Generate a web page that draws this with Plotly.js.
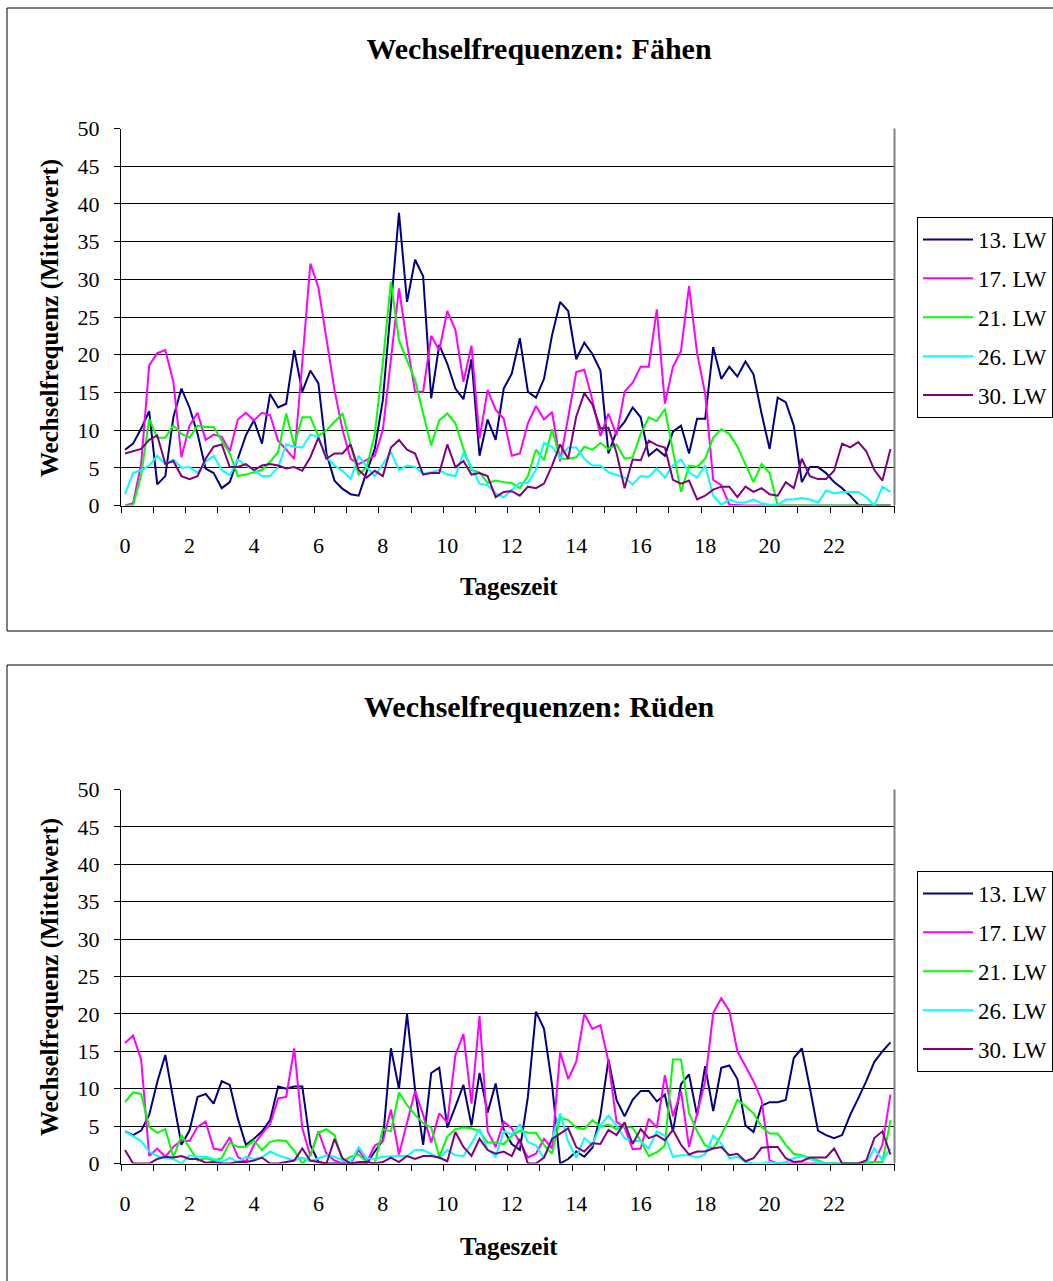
<!DOCTYPE html>
<html>
<head>
<meta charset="utf-8">
<script src="https://cdn.plot.ly/plotly-3.0.1.min.js"></script>
<style>html,body{margin:0;padding:0;background:#fff;}#chart{width:1053px;height:1281px;}</style>
</head>
<body>
<div id="chart"></div>
<script>
// Time of day (hours), 15-minute categories
const hours = Array.from({length: 96}, (_, i) => i / 4);
const seriesNames = ["13. LW", "17. LW", "21. LW", "26. LW", "30. LW"];
const seriesColors = ["#000080", "#FF00FF", "#00FF00", "#00FFFF", "#800080"];
const tickHours = [0, 2, 4, 6, 8, 10, 12, 14, 16, 18, 20, 22];

// Fähen (females)
const faehen13 = [7.4,8.2,10.2,12.5,2.8,3.9,11.7,15.5,13,9.5,4.9,4.3,2.3,3.1,6.2,9.3,
11.3,8.2,14.8,13,13.5,20.6,15.1,17.9,16.2,6.9,3.3,2.2,1.5,1.3,4.5,7.5,
14,26,38.8,27,32.6,30.4,14.2,21.3,18.8,15.5,14.1,19.4,6.6,11.4,8.7,15.5,
17.5,22.2,15.1,14.3,16.8,22.6,27,25.8,19.4,21.6,20.1,17.9,6.9,9.8,11.1,13,
11.7,6.6,7.5,6.6,9.8,10.6,6.9,11.5,11.5,21,16.8,18.4,17.1,19.1,17.4,12.2,
7.5,14.3,13.7,10.6,3.1,5.1,5.1,4.3,3.1,2.3,1.3,0.1,0,0,0,0];
const faehen17 = [0,0.3,5.5,18.6,20.2,20.6,16.4,6.4,10.6,12.3,8.7,9.4,9.1,7.2,11.4,12.3,
11.3,12.3,12,8.6,7.4,6.2,19,32.1,28.9,21.9,15.3,10,6.2,5.5,6,6.6,
10,19.7,28.8,21.5,15.1,15.1,22.5,20.6,25.8,23.3,16.4,21.2,8.9,15.3,12.7,11.5,
6.6,6.9,10.9,13.2,11.4,12.4,5.9,11.7,17.7,18,14,9.2,12.2,9.3,15.1,16.3,
18.4,18.4,26,13.5,18.4,20.5,29.1,20.2,14.8,3.4,2.7,0.1,0,0,0,0,
0,0,0,0,0,0,0,0,0,0,0,0,0,0,0,0];
const faehen21 = [0,0,4,11.5,9,9,10.6,9.5,9,10.6,10.4,10.4,8.6,6.9,3.9,4.1,
4.4,4.7,5.8,7.1,12.2,8,11.7,11.7,9.2,10,11.1,12.2,8,4.1,5.1,9.5,
19,29.7,21.9,19.3,16.6,12.2,8,11.3,12.2,10.9,7.5,4.7,4.4,3,3.3,3.1,
3,2.3,3.9,7.4,6,10.1,6.2,6.2,6.4,7.8,7.4,8.3,7.5,8.1,6.2,6.4,
9.5,11.7,11.2,12.8,7.3,1.8,5.3,5.1,6.2,9,10.1,9.5,7.8,5.5,3.1,5.5,
4.3,0,0,0,0,0,0,0,0,0,0,0,0,0,0,0];
const faehen26 = [1.5,4.3,4.7,5.3,6.6,5.5,6.1,5,5.1,4.3,5.8,6.6,4.7,4,6.1,5.3,
4.7,3.9,3.9,5.1,8.1,7.8,7.7,9.4,9.1,6.4,5.3,4.6,3.5,6.6,5.1,3.9,
5.5,7.1,4.7,5.3,5.1,4.2,4.4,4.7,4.1,3.9,7,5.1,2.9,2.7,1.6,1.1,
2.1,3,3,4.7,8.3,7.8,6.3,7.7,7.7,6.2,5.3,5.3,4.4,4.1,3.7,2.8,
3.9,3.8,4.9,3.7,5.3,6.1,4.4,3.7,5.3,1.3,0.1,0.8,0.4,0.4,0.8,0.3,
0.1,0.1,0.8,0.8,1,0.8,0.4,2,1.6,1.8,1.8,1.8,1.1,0,2.5,1.8];
const faehen30 = [6.9,7.2,7.5,8.7,9.3,5.5,5.9,3.9,3.5,3.9,6.2,7.8,8.1,5.1,5.1,5.5,
4.7,5.3,5.5,5.3,4.9,5.1,4.6,6.4,9,6.2,6.9,6.9,8.1,4.7,3.7,4.6,
3.9,7.7,8.7,7.4,6.9,4.1,4.3,4.3,8.1,5.1,5.9,4.1,4.3,3.9,1.1,1.8,
1.9,1.3,2.5,2.3,2.9,5.3,8.1,6.2,11.8,14.9,13.4,10.2,10.3,7,2.3,6.1,
6,8.6,8,7.7,3.4,2.9,3.3,0.8,1.3,2.1,2.5,2.5,1.1,2.5,1.8,2.3,
1.5,1.3,3.1,2.3,6.2,3.9,3.5,3.5,4.6,8.2,7.7,8.4,7.2,4.7,3.3,7.5];

// Rüden (males)
const rueden13 = [4.3,3.8,4.4,6.5,10.9,14.5,8.5,2.5,4.4,8.9,9.3,8,11,10.5,6,2.5,
3.3,4.3,5.8,10.3,10,10.3,10.3,2.5,0.2,0,0,0,0,0,0,1.6,
3.1,15.4,10,20,9.8,2.5,12.1,12.8,4.8,7.6,10.5,5.1,12.1,6.8,10.7,4.5,
2.6,1.8,8.9,20.3,18,10.5,0,0.6,1.6,0.9,2.1,6.4,13.9,8.5,6.3,8.5,
9.7,9.7,8.3,9.2,4.3,10.6,11.9,6.4,13,7,12.8,13.1,11.3,5.1,4.2,7.7,
8.2,8.2,8.5,14.1,15.4,10.1,4.4,3.8,3.4,3.8,6.5,8.7,11,13.6,15,16.2];
const rueden17 = [16.1,17.1,13.9,1,2,0.9,2.2,3.1,3,4.9,5.6,2,1.8,3.5,0.9,0.2,
2.5,4,5.2,8.7,8.9,15.4,4.7,1,4.3,1.3,0.4,0,0,1.8,0.2,2.4,
3,7.2,1.2,5.6,9.7,6.5,2.8,6.7,5.5,14.5,17.3,8,19.7,4.3,2.2,5.6,
4.7,2.8,0.8,1.3,3.3,2,14.9,11.3,13.6,20,18,18.5,13.6,5.6,4.8,1.9,
2,6,4.8,11.8,6.3,9.7,2.2,6.7,11,20.1,22.1,20.4,15,13,11,8.5,
0.4,0,0,0,0,0,0,0,0,0,0,0,0,0.2,2.5,9.2];
const rueden21 = [8.2,9.5,9.3,4.9,4.1,4.6,0.8,3.8,2.1,0.4,0.7,0.4,0.7,2.8,2.2,2.2,
3.1,1.8,2.9,3.1,3,1.7,0,1.1,4.1,4.6,3.8,0.3,0.9,1.2,0.2,0,
4.6,4.3,9.5,7.8,6.5,5.4,4.8,0.9,3.6,4.6,4.8,4.7,4.3,2.8,2.8,2.6,
3.7,4.4,4.1,4.1,2.5,1.3,6.1,5.8,4.8,4.6,5.8,4.9,5.2,4.6,4.9,4.8,
3,1,1.5,2.4,13.9,13.9,6.7,4.3,2.4,2,3.8,6,8.5,7.7,6.7,4.9,
4,4,2.5,1.3,1.1,0.8,0.4,0,0,0,0,0,0.1,0.2,0.2,5.8];
const rueden26 = [4.3,3.6,3,1.6,1,0.7,0.6,0,1.1,0.9,0.9,0.6,0.2,0.8,0.2,0.9,
0.6,0.8,1.6,1.1,0.8,0.4,0.8,0.3,0.7,1.1,0.9,0.4,0.2,2.2,0.7,0.6,
0.9,1,1,1,1.8,1.8,1.3,0.7,1.8,1.1,1,2.7,4.6,1.9,0.9,4.3,
3.9,5.2,2.9,2.4,0.7,3.3,6.7,2.9,0.8,3.4,2.5,5.1,6.4,5.1,3.4,3,
3,2,4.3,3.7,0.9,1.1,1.1,0.8,1.2,3.7,2.7,0.7,0.9,0.2,0,0,
0.2,0,0.2,0.7,1,0.6,0.2,0,0,0,0,0,0,2,0.4,2];
const rueden30 = [1.8,0,0,0,0.6,0.9,0.8,1,0.6,0.6,0.1,0.2,0,0,0.2,0.2,
0.4,0.8,0,0,0.2,0.4,2,0.4,0.2,0,3.3,0.7,0,0.2,0.2,0,
0.2,0.8,0.2,1,0.6,1,1,0.8,0.3,4.2,2.2,1,3.3,1.8,1.3,1.6,
1,3.3,0,0,0.8,3.3,4,4.7,2.2,1.6,2.7,2.6,4.5,3.8,5.5,2.6,
4.6,3.4,3.8,3.1,4.5,2.5,1.2,1.6,1.6,2,2.2,1.1,1.3,0.3,0.7,2.1,
2.2,2.2,0.7,0.2,0.3,0.8,0.8,0.8,2,0,0,0,0.4,3.4,4.3,1.2];

const faehen = [faehen13, faehen17, faehen21, faehen26, faehen30];
const rueden = [rueden13, rueden17, rueden21, rueden26, rueden30];

const FONT = '"Liberation Serif", "Times New Roman", serif';
const W = 1053, H = 1281;
const px = v => v / W;
const py = v => (H - v) / H;

const traces = [];
faehen.forEach((vals, k) => traces.push({
  x: hours, y: vals, type: 'scatter', mode: 'lines', name: seriesNames[k],
  line: {color: seriesColors[k], width: 2}, xaxis: 'x', yaxis: 'y',
  legend: 'legend', legendgroup: 'f' + k, hoverinfo: 'skip'
}));
rueden.forEach((vals, k) => traces.push({
  x: hours, y: vals, type: 'scatter', mode: 'lines', name: seriesNames[k],
  line: {color: seriesColors[k], width: 2}, xaxis: 'x2', yaxis: 'y2',
  legend: 'legend2', legendgroup: 'r' + k, hoverinfo: 'skip'
}));

const boundaries = Array.from({length: 25}, (_, k) => k - 0.125);
const xDomain = [px(121), px(894.5)];

function xAxis(anchor) {
  return {
    domain: xDomain, anchor: anchor, range: [-0.125, 23.875],
    tickmode: 'array', tickvals: tickHours, ticktext: tickHours.map(String),
    ticks: '', showgrid: false, zeroline: false,
    showline: true, linecolor: '#000', linewidth: 1,
    tickfont: {family: FONT, size: 22, color: '#000'},
    ticklabelstandoff: 20,
    minor: {tickmode: 'array', tickvals: boundaries, ticks: 'outside', ticklen: 6,
            tickwidth: 1, tickcolor: '#000', showgrid: false},
    fixedrange: true
  };
}
function yAxis(anchor, dom) {
  return {
    domain: dom, anchor: anchor, range: [0, 50], tickmode: 'linear', tick0: 0, dtick: 5,
    ticks: 'outside', ticklen: 6, tickwidth: 1, tickcolor: '#000',
    showgrid: true, gridcolor: '#000', gridwidth: 1, zeroline: false,
    showline: true, linecolor: '#000', linewidth: 1,
    tickfont: {family: FONT, size: 22, color: '#000'},
    ticklabelstandoff: 10, fixedrange: true
  };
}

const topDom = [py(505.5), py(128.5)];
const botDom = [py(1163.5), py(789.5)];

function legendCfg(topPx) {
  return {
    x: px(917), y: py(topPx), xanchor: 'left', yanchor: 'top',
    bgcolor: '#fff', bordercolor: '#000', borderwidth: 1,
    font: {family: FONT, size: 23, color: '#000'},
    itemwidth: 50, tracegroupgap: 6, traceorder: 'grouped', itemclick: false
  };
}

const annotations = [
  {text: '<b>Wechselfrequenzen: Rüden</b>', x: px(539), y: py(707), xref: 'paper', yref: 'paper',
   xanchor: 'center', yanchor: 'middle', showarrow: false, font: {family: FONT, size: 30, color: '#000'}},
  {text: '<b>Wechselfrequenz (Mittelwert)</b>', x: px(50), y: py(318), xref: 'paper', yref: 'paper',
   textangle: -90, xanchor: 'center', yanchor: 'middle', showarrow: false, font: {family: FONT, size: 25, color: '#000'}},
  {text: '<b>Wechselfrequenz (Mittelwert)</b>', x: px(50), y: py(977), xref: 'paper', yref: 'paper',
   textangle: -90, xanchor: 'center', yanchor: 'middle', showarrow: false, font: {family: FONT, size: 25, color: '#000'}},
  {text: '<b>Tageszeit</b>', x: px(509), y: py(587), xref: 'paper', yref: 'paper',
   xanchor: 'center', yanchor: 'middle', showarrow: false, font: {family: FONT, size: 25, color: '#000'}},
  {text: '<b>Tageszeit</b>', x: px(509), y: py(1246), xref: 'paper', yref: 'paper',
   xanchor: 'center', yanchor: 'middle', showarrow: false, font: {family: FONT, size: 25, color: '#000'}}
];

const shapes = [
  {type: 'rect', xref: 'paper', yref: 'paper', x0: px(7), x1: 1.05, y0: py(631), y1: py(8),
   line: {color: '#000', width: 1}, fillcolor: 'rgba(0,0,0,0)', layer: 'below'},
  {type: 'rect', xref: 'paper', yref: 'paper', x0: px(7), x1: 1.05, y0: -0.05, y1: py(665),
   line: {color: '#000', width: 1}, fillcolor: 'rgba(0,0,0,0)', layer: 'below'},
  {type: 'line', xref: 'paper', yref: 'paper', x0: xDomain[1], x1: xDomain[1], y0: topDom[0], y1: topDom[1],
   line: {color: '#808080', width: 2}},
  {type: 'line', xref: 'paper', yref: 'paper', x0: xDomain[1], x1: xDomain[1], y0: botDom[0], y1: botDom[1],
   line: {color: '#808080', width: 2}}
];

const layout = {
  width: W, height: H, margin: {l: 0, r: 0, t: 0, b: 0},
  paper_bgcolor: '#fff', plot_bgcolor: '#fff',
  font: {family: FONT, color: '#000'},
  title: {text: '<b>Wechselfrequenzen: Fähen</b>', x: px(539), xref: 'paper', xanchor: 'center',
          y: py(48), yref: 'paper', yanchor: 'middle', font: {family: FONT, size: 30, color: '#000'}},
  xaxis: xAxis('y'), yaxis: yAxis('x', topDom),
  xaxis2: xAxis('y2'), yaxis2: yAxis('x2', botDom),
  legend: legendCfg(217), legend2: legendCfg(871),
  showlegend: true, annotations: annotations, shapes: shapes, hovermode: false
};

Plotly.newPlot('chart', traces, layout, {staticPlot: true, displayModeBar: false});
</script>
</body>
</html>
